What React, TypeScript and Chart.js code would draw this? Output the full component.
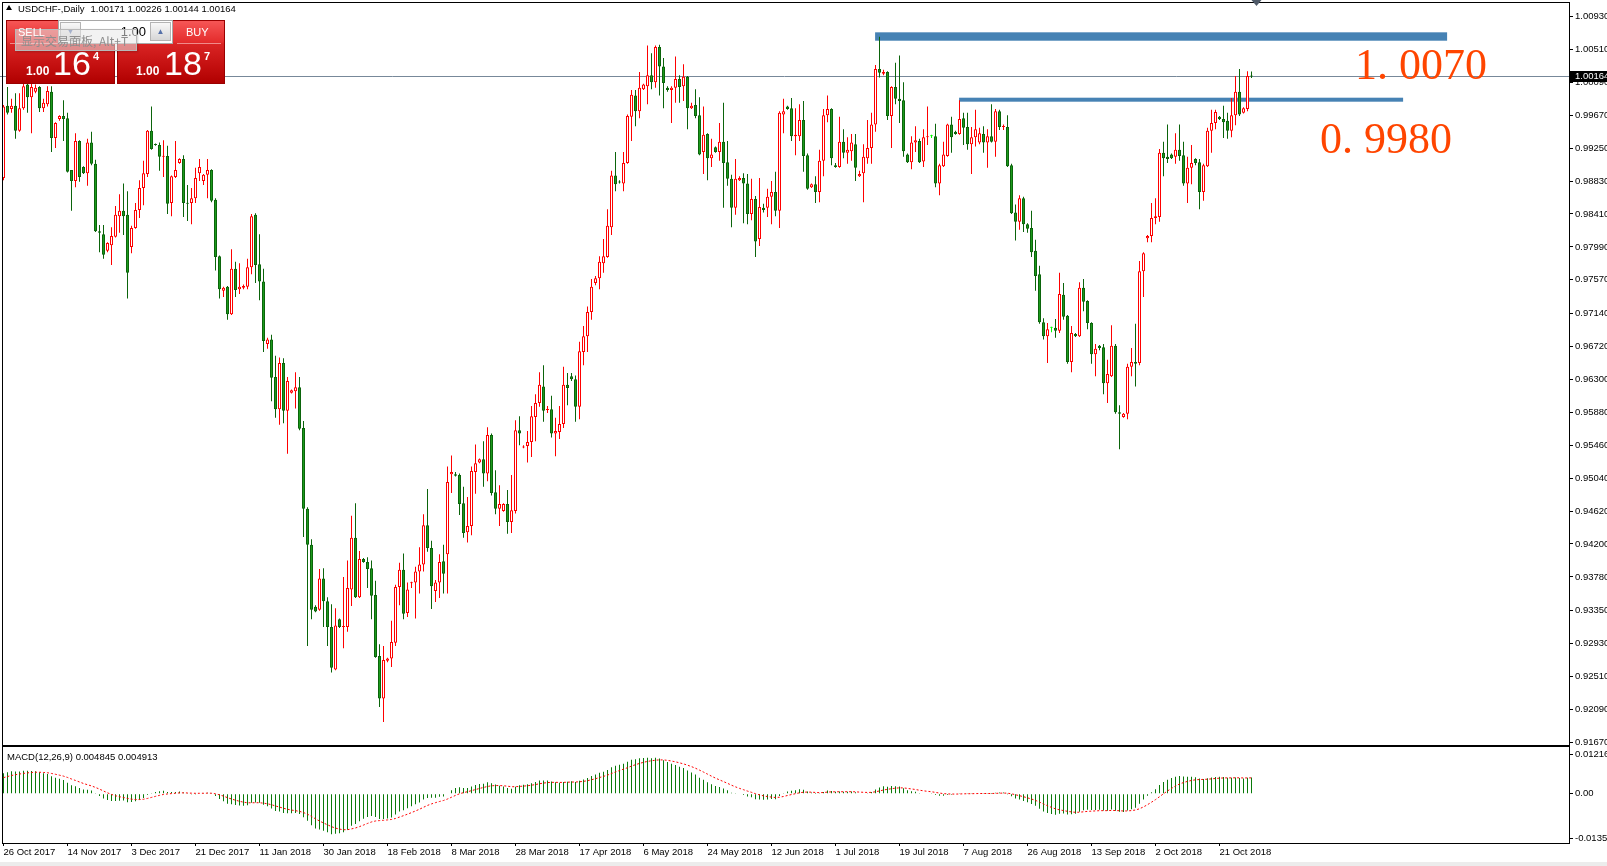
import React, { useEffect, useRef } from "react";
import { Chart, registerables } from "chart.js";

Chart.register(...registerables);

// ---------------- DATA ----------------
const symbolTitle = "USDCHF-,Daily";
const lastQuote = [1.00171, 1.00226, 1.00144, 1.00164]; // O H L C of current bar

const opens = [
  0.9887,0.9979,0.9975,0.9979,0.9947,0.9976,1.0006,0.9990,0.9997,1.0003,
  0.9976,0.9981,0.9997,0.9938,0.9962,0.9966,0.9963,0.9897,0.9883,0.9934,
  0.9901,0.9893,0.9932,0.9905,0.9819,0.9815,0.9794,0.9801,0.9812,0.9838,
  0.9845,0.9840,0.9799,0.9823,0.9846,0.9874,0.9892,0.9947,0.9930,0.9929,
  0.9914,0.9915,0.9855,0.9888,0.9906,0.9911,0.9855,0.9855,0.9861,0.9893,
  0.9883,0.9891,0.9897,0.9859,0.9787,0.9743,0.9748,0.9713,0.9771,0.9745,
  0.9747,0.9748,0.9773,0.9840,0.9777,0.9755,0.9675,0.9681,0.9633,0.9592,
  0.9651,0.9590,0.9613,0.9615,0.9620,0.9568,0.9465,0.9419,0.9340,0.9336,
  0.9376,0.9347,0.9314,0.9260,0.9324,0.9314,0.9314,0.9362,0.9428,0.9352,
  0.9401,0.9397,0.9389,0.9355,0.9277,0.9223,0.9271,0.9274,0.9294,0.9365,
  0.9387,0.9332,0.9370,0.9371,0.9385,0.9394,0.9444,0.9415,0.9360,0.9371,
  0.9398,0.9407,0.9509,0.9509,0.9508,0.9472,0.9435,0.9443,0.9512,0.9524,
  0.9528,0.9510,0.9559,0.9486,0.9465,0.9462,0.9471,0.9448,0.9462,0.9565,
  0.9543,0.9545,0.9550,0.9582,0.9600,0.9621,0.9591,0.9592,0.9561,0.9563,
  0.9573,0.9623,0.9634,0.9630,0.9595,0.9665,0.9685,0.9716,0.9753,0.9759,
  0.9778,0.9786,0.9824,0.9890,0.9882,0.9880,0.9906,0.9965,0.9992,0.9972,
  1.0000,1.0004,1.0018,1.0009,1.0054,1.0029,1.0002,0.9999,1.0002,1.0013,
  1.0004,1.0016,0.9976,0.9980,0.9967,0.9920,0.9943,0.9912,0.9926,0.9920,
  0.9933,0.9907,0.9886,0.9849,0.9884,0.9887,0.9880,0.9841,0.9860,0.9809,
  0.9849,0.9849,0.9863,0.9869,0.9845,0.9968,0.9978,0.9976,0.9940,0.9940,
  0.9961,0.9916,0.9875,0.9879,0.9869,0.9909,0.9967,0.9975,0.9903,0.9901,
  0.9933,0.9919,0.9921,0.9930,0.9889,0.9893,0.9912,0.9925,0.9955,1.0026,
  1.0020,1.0022,0.9966,1.0003,0.9988,0.9986,0.9917,0.9907,0.9932,0.9934,
  0.9908,0.9939,0.9940,0.9940,0.9880,0.9902,0.9915,0.9955,0.9946,0.9943,
  0.9963,0.9952,0.9930,0.9939,0.9932,0.9943,0.9932,0.9940,0.9933,0.9972,
  0.9952,0.9952,0.9903,0.9843,0.9831,0.9861,0.9828,0.9823,0.9794,0.9764,
  0.9703,0.9685,0.9696,0.9696,0.9692,0.9738,0.9711,0.9652,0.9688,0.9685,
  0.9747,0.9730,0.9702,0.9662,0.9673,0.9671,0.9625,0.9634,0.9673,0.9588,
  0.9582,0.9586,0.9646,0.9652,0.9651,0.9768,0.9810,0.9813,0.9836,0.9837,
  0.9919,0.9914,0.9917,0.9914,0.9923,0.9916,0.9880,0.9900,0.9911,0.9907,
  0.9869,0.9902,0.9947,0.9957,0.9965,0.9962,0.9960,0.9947,0.9967,0.9997,
  0.9970,0.9975,1.00171,
];

const highs = [
  0.9980,1.0003,0.9988,0.9995,0.9995,1.0012,1.0012,1.0009,1.0006,1.0004,
  0.9988,1.0004,1.0004,0.9958,0.9967,0.9986,0.9970,0.9897,0.9944,0.9935,
  0.9902,0.9937,0.9946,0.9910,0.9827,0.9827,0.9805,0.9824,0.9851,0.9866,
  0.9880,0.9870,0.9826,0.9855,0.9884,0.9909,0.9948,0.9978,0.9931,0.9932,
  0.9935,0.9928,0.9890,0.9934,0.9912,0.9916,0.9878,0.9874,0.9900,0.9911,
  0.9892,0.9911,0.9898,0.9861,0.9788,0.9748,0.9749,0.9796,0.9780,0.9778,
  0.9751,0.9784,0.9841,0.9842,0.9815,0.9771,0.9683,0.9687,0.9660,0.9658,
  0.9657,0.9633,0.9617,0.9639,0.9633,0.9577,0.9467,0.9426,0.9342,0.9388,
  0.9389,0.9352,0.9343,0.9338,0.9325,0.9378,0.9399,0.9456,0.9472,0.9411,
  0.9402,0.9403,0.9399,0.9373,0.9292,0.9290,0.9275,0.9322,0.9368,0.9396,
  0.9408,0.9371,0.9372,0.9391,0.9416,0.9458,0.9490,0.9424,0.9374,0.9407,
  0.9419,0.9519,0.9533,0.9512,0.9510,0.9493,0.9480,0.9519,0.9547,0.9529,
  0.9551,0.9569,0.9561,0.9514,0.9495,0.9472,0.9489,0.9508,0.9578,0.9583,
  0.9546,0.9564,0.9596,0.9611,0.9639,0.9648,0.9596,0.9609,0.9581,0.9596,
  0.9646,0.9638,0.9638,0.9635,0.9678,0.9698,0.9723,0.9758,0.9762,0.9787,
  0.9809,0.9847,0.9896,0.9920,0.9884,0.9920,0.9968,0.9999,0.9999,1.0022,
  1.0007,1.0056,1.0046,1.0056,1.0057,1.0040,1.0004,1.0004,1.0042,1.0018,
  1.0032,1.0017,0.9983,1.0000,0.9990,0.9978,0.9944,0.9937,0.9927,0.9957,
  0.9983,0.9934,0.9891,0.9911,0.9889,0.9893,0.9892,0.9886,0.9864,0.9887,
  0.9854,0.9873,0.9883,0.9895,0.9972,0.9988,0.9979,0.9989,0.9976,0.9981,
  0.9985,0.9918,0.9880,0.9889,0.9923,0.9975,0.9992,0.9976,0.9906,0.9965,
  0.9949,0.9939,0.9943,0.9943,0.9896,0.9930,0.9961,0.9970,1.0031,1.0067,
  1.0025,1.0023,1.0004,1.0034,1.0043,1.0009,0.9918,0.9940,0.9953,0.9937,
  0.9949,0.9978,0.9942,0.9956,0.9905,0.9933,0.9956,0.9965,0.9947,0.9986,
  0.9970,0.9970,0.9952,0.9974,0.9951,0.9953,0.9949,0.9981,0.9975,0.9974,
  0.9955,0.9967,0.9905,0.9853,0.9865,0.9863,0.9829,0.9845,0.9808,0.9775,
  0.9708,0.9702,0.9697,0.9707,0.9766,0.9753,0.9712,0.9698,0.9689,0.9754,
  0.9758,0.9731,0.9703,0.9675,0.9674,0.9675,0.9655,0.9699,0.9675,0.9597,
  0.9587,0.9650,0.9670,0.9701,0.9781,0.9792,0.9814,0.9855,0.9861,0.9924,
  0.9933,0.9955,0.9918,0.9944,0.9955,0.9933,0.9914,0.9929,0.9912,0.9911,
  0.9905,0.9951,0.9974,0.9974,0.9966,0.9979,0.9970,0.9989,1.0017,1.0026,
  0.9977,1.0023,1.00226,
];

const lows = [
  0.9884,0.9968,0.9970,0.9937,0.9946,0.9974,0.9970,0.9944,0.9995,0.9971,
  0.9971,0.9978,0.9920,0.9925,0.9960,0.9934,0.9894,0.9845,0.9875,0.9882,
  0.9892,0.9877,0.9903,0.9818,0.9792,0.9784,0.9792,0.9776,0.9811,0.9817,
  0.9814,0.9733,0.9791,0.9822,0.9836,0.9852,0.9888,0.9923,0.9928,0.9896,
  0.9888,0.9841,0.9838,0.9887,0.9905,0.9837,0.9832,0.9828,0.9855,0.9883,
  0.9878,0.9861,0.9856,0.9769,0.9733,0.9735,0.9706,0.9712,0.9735,0.9739,
  0.9745,0.9745,0.9764,0.9753,0.9731,0.9665,0.9669,0.9602,0.9581,0.9572,
  0.9574,0.9535,0.9612,0.9593,0.9565,0.9429,0.9290,0.9324,0.9333,0.9335,
  0.9314,0.9290,0.9256,0.9259,0.9313,0.9287,0.9308,0.9341,0.9351,0.9351,
  0.9396,0.9364,0.9324,0.9275,0.9212,0.9193,0.9269,0.9263,0.9290,0.9342,
  0.9324,0.9327,0.9364,0.9325,0.9357,0.9385,0.9410,0.9337,0.9346,0.9351,
  0.9357,0.9357,0.9485,0.9506,0.9457,0.9428,0.9422,0.9431,0.9484,0.9523,
  0.9493,0.9500,0.9482,0.9458,0.9443,0.9461,0.9433,0.9434,0.9459,0.9546,
  0.9542,0.9524,0.9531,0.9551,0.9595,0.9576,0.9587,0.9556,0.9532,0.9554,
  0.9568,0.9597,0.9628,0.9576,0.9579,0.9648,0.9665,0.9706,0.9750,0.9745,
  0.9766,0.9785,0.9814,0.9870,0.9880,0.9870,0.9905,0.9934,0.9953,0.9963,
  0.9999,0.9981,1.0000,1.0002,0.9992,0.9976,0.9997,0.9957,0.9983,0.9983,
  0.9985,0.9949,0.9975,0.9963,0.9916,0.9892,0.9884,0.9901,0.9919,0.9909,
  0.9849,0.9877,0.9824,0.9840,0.9883,0.9829,0.9828,0.9833,0.9786,0.9800,
  0.9843,0.9837,0.9828,0.9838,0.9823,0.9944,0.9974,0.9934,0.9916,0.9934,
  0.9895,0.9872,0.9874,0.9855,0.9856,0.9889,0.9958,0.9903,0.9900,0.9900,
  0.9912,0.9905,0.9909,0.9883,0.9888,0.9856,0.9905,0.9905,0.9946,1.0015,
  1.0018,0.9961,0.9925,0.9981,0.9957,0.9914,0.9906,0.9898,0.9920,0.9906,
  0.9901,0.9929,0.9938,0.9875,0.9865,0.9901,0.9914,0.9919,0.9942,0.9942,
  0.9929,0.9923,0.9892,0.9927,0.9930,0.9919,0.9900,0.9932,0.9914,0.9948,
  0.9948,0.9901,0.9841,0.9807,0.9821,0.9818,0.9817,0.9786,0.9743,0.9701,
  0.9681,0.9651,0.9690,0.9683,0.9689,0.9706,0.9650,0.9639,0.9684,0.9684,
  0.9717,0.9694,0.9650,0.9634,0.9667,0.9611,0.9600,0.9633,0.9586,0.9541,
  0.9581,0.9579,0.9634,0.9621,0.9648,0.9735,0.9805,0.9805,0.9828,0.9831,
  0.9889,0.9906,0.9911,0.9905,0.9909,0.9877,0.9855,0.9879,0.9903,0.9847,
  0.9858,0.9901,0.9919,0.9949,0.9961,0.9938,0.9937,0.9939,0.9954,0.9966,
  0.9969,0.9972,1.00144,
];

const closes = [
  0.9978,0.9970,0.9979,0.9947,0.9976,1.0004,0.9990,1.0003,1.0002,0.9976,
  0.9983,0.9998,0.9938,0.9957,0.9966,0.9962,0.9895,0.9883,0.9934,0.9888,
  0.9893,0.9932,0.9905,0.9819,0.9817,0.9789,0.9804,0.9813,0.9840,0.9845,
  0.9838,0.9766,0.9823,0.9846,0.9874,0.9893,0.9947,0.9924,0.9929,0.9914,
  0.9915,0.9854,0.9889,0.9897,0.9911,0.9855,0.9854,0.9861,0.9887,0.9901,
  0.9891,0.9897,0.9858,0.9786,0.9745,0.9747,0.9713,0.9771,0.9744,0.9748,
  0.9749,0.9773,0.9838,0.9776,0.9755,0.9679,0.9681,0.9632,0.9592,0.9651,
  0.9590,0.9628,0.9616,0.9620,0.9567,0.9465,0.9419,0.9336,0.9334,0.9376,
  0.9347,0.9314,0.9262,0.9316,0.9314,0.9315,0.9364,0.9428,0.9352,0.9401,
  0.9397,0.9388,0.9354,0.9276,0.9223,0.9272,0.9274,0.9295,0.9365,0.9387,
  0.9331,0.9362,0.9371,0.9385,0.9394,0.9444,0.9415,0.9366,0.9371,0.9397,
  0.9382,0.9499,0.9512,0.9507,0.9471,0.9434,0.9443,0.9513,0.9523,0.9528,
  0.9510,0.9559,0.9485,0.9465,0.9471,0.9471,0.9448,0.9463,0.9565,0.9561,
  0.9544,0.9550,0.9583,0.9600,0.9623,0.9590,0.9592,0.9561,0.9564,0.9573,
  0.9623,0.9619,0.9630,0.9595,0.9666,0.9685,0.9716,0.9748,0.9759,0.9780,
  0.9787,0.9826,0.9890,0.9879,0.9881,0.9906,0.9966,0.9993,0.9972,1.0002,
  1.0006,1.0018,1.0009,1.0054,1.0029,1.0008,0.9999,1.0002,1.0013,1.0003,
  1.0016,0.9976,0.9979,0.9966,0.9917,0.9942,0.9912,0.9917,0.9920,0.9933,
  0.9906,0.9886,0.9849,0.9886,0.9887,0.9880,0.9841,0.9860,0.9806,0.9850,
  0.9846,0.9863,0.9869,0.9845,0.9970,0.9972,0.9975,0.9940,0.9942,0.9961,
  0.9915,0.9873,0.9879,0.9869,0.9909,0.9967,0.9975,0.9912,0.9901,0.9933,
  0.9919,0.9923,0.9932,0.9900,0.9892,0.9914,0.9925,0.9955,1.0026,1.0021,
  1.0022,0.9966,1.0003,0.9988,0.9985,0.9921,0.9907,0.9932,0.9935,0.9907,
  0.9939,0.9940,0.9940,0.9880,0.9903,0.9917,0.9955,0.9939,0.9943,0.9962,
  0.9951,0.9930,0.9939,0.9949,0.9944,0.9932,0.9940,0.9933,0.9972,0.9952,
  0.9953,0.9902,0.9842,0.9831,0.9861,0.9828,0.9822,0.9792,0.9762,0.9703,
  0.9685,0.9694,0.9696,0.9692,0.9739,0.9710,0.9652,0.9689,0.9685,0.9747,
  0.9729,0.9702,0.9662,0.9669,0.9670,0.9625,0.9637,0.9673,0.9588,0.9586,
  0.9586,0.9646,0.9652,0.9650,0.9768,0.9791,0.9813,0.9836,0.9838,0.9919,
  0.9912,0.9911,0.9912,0.9923,0.9915,0.9880,0.9900,0.9906,0.9906,0.9869,
  0.9903,0.9947,0.9957,0.9971,0.9962,0.9958,0.9947,0.9967,0.9997,0.9968,
  0.9976,1.0017,1.00164,
];

const dateLabels = [
  "26 Oct 2017", "14 Nov 2017", "3 Dec 2017", "21 Dec 2017", "11 Jan 2018",
  "30 Jan 2018", "18 Feb 2018", "8 Mar 2018", "28 Mar 2018", "17 Apr 2018",
  "6 May 2018", "24 May 2018", "12 Jun 2018", "1 Jul 2018", "19 Jul 2018",
  "7 Aug 2018", "26 Aug 2018", "13 Sep 2018", "2 Oct 2018", "21 Oct 2018",
];
const barsPerDateLabel = 16;

const priceTicks = [
  1.0093, 1.0051, 1.0009, 0.9967, 0.9925, 0.9883, 0.9841, 0.9799, 0.9757, 0.9714,
  0.9672, 0.963, 0.9588, 0.9546, 0.9504, 0.9462, 0.942, 0.9378, 0.9335, 0.9293,
  0.9251, 0.9209, 0.9167,
];
const macdTicks = [0.01216, 0, -0.01358];
const macdLegend = "MACD(12,26,9) 0.004845 0.004913";
const macdPeriods = { fast: 12, slow: 26, signal: 9 };
// EMA state carried in from the bars before the first visible one
const macdSeed = { fast: 0.9846, slow: 0.979, signal: 0.0046 };

// hand-drawn zones and their captions (price levels, bar index span)
const zones = [
  { low: 1.0062, high: 1.00727, fromBar: 217.9, toBar: 360.9 },
  { low: 0.99842, high: 0.99893, fromBar: 238.9, toBar: 349.9 },
];
const zoneCaptions = [
  { text: "1. 0070", bar: 337.9, price: 1.00127 },
  { text: "0. 9980", bar: 329.1, price: 0.99191 },
];

// ---------------- derived ----------------
const macdMain: number[] = [];
const macdSignal: number[] = [];
{
  let f = macdSeed.fast;
  let s = macdSeed.slow;
  let g = macdSeed.signal;
  for (const c of closes) {
    f += (c - f) * 2 / (macdPeriods.fast + 1);
    s += (c - s) * 2 / (macdPeriods.slow + 1);
    const m = f - s;
    g += (m - g) * 2 / (macdPeriods.signal + 1);
    macdMain.push(m);
    macdSignal.push(g);
  }
}

const UP = "#FF0000";
const DOWN_EDGE = "#0B640B";
const DOWN_FILL = "#1C9A1C";
const DOJI = "#00FF00";
const FONT = '"Liberation Sans", Arial, sans-serif';

const X_MIN = -0.125;
const X_MAX = 391.375;

const candleKind = (i: number) =>
  closes[i] === opens[i] ? "doji" : closes[i] > opens[i] ? "up" : "down";

const mainPlugin = {
  id: "mt4Main",
  beforeDatasetsDraw(chart: any) {
    const { ctx, chartArea, scales } = chart;
    const x = scales.x;
    const y = scales.y;
    ctx.save();
    ctx.fillStyle = "#4682B4";
    for (const z of zones) {
      const x0 = x.getPixelForValue(z.fromBar);
      const x1 = x.getPixelForValue(z.toBar);
      const y0 = y.getPixelForValue(z.high);
      const y1 = y.getPixelForValue(z.low);
      ctx.fillRect(x0, y0, x1 - x0, y1 - y0);
    }
    const py = Math.round(y.getPixelForValue(lastQuote[3])) + 0.5;
    ctx.strokeStyle = "#778899";
    ctx.lineWidth = 1;
    ctx.beginPath();
    ctx.moveTo(0, py);
    ctx.lineTo(chartArea.right, py);
    ctx.stroke();
    ctx.restore();
  },
  afterDraw(chart: any) {
    const { ctx, chartArea, scales, width } = chart;
    const x = scales.x;
    const y = scales.y;
    ctx.save();
    // frame
    ctx.strokeStyle = "#000";
    ctx.lineWidth = 1;
    ctx.strokeRect(chartArea.left - 0.5, chartArea.top - 0.5, chartArea.right - chartArea.left + 1, chartArea.bottom - chartArea.top + 1);
    // zone captions
    ctx.fillStyle = "#FF4500";
    ctx.font = '44px "Liberation Serif", "DejaVu Serif", serif';
    ctx.textAlign = "left";
    ctx.textBaseline = "alphabetic";
    for (const c of zoneCaptions) {
      ctx.fillText(c.text, x.getPixelForValue(c.bar), y.getPixelForValue(c.price));
    }
    // current price tag
    const py = Math.round(y.getPixelForValue(lastQuote[3]));
    ctx.fillStyle = "#000";
    ctx.fillRect(chartArea.right + 1, py - 5, width - chartArea.right, 11);
    ctx.fillStyle = "#fff";
    ctx.font = "9.5px " + FONT;
    ctx.textBaseline = "middle";
    ctx.fillText(lastQuote[3].toFixed(5), chartArea.right + 6, py + 0.5);
    // chart shift marker
    const mx = Math.round(x.getPixelForValue(closes.length)) + 0.5;
    ctx.fillStyle = "#4F5A68";
    ctx.beginPath();
    ctx.moveTo(mx - 5, 0);
    ctx.lineTo(mx + 5, 0);
    ctx.lineTo(mx, 6);
    ctx.closePath();
    ctx.fill();
    ctx.restore();
  },
};

const macdPlugin = {
  id: "mt4Macd",
  afterDraw(chart: any) {
    const { ctx, chartArea } = chart;
    ctx.save();
    ctx.strokeStyle = "#000";
    ctx.lineWidth = 1;
    ctx.strokeRect(chartArea.left - 0.5, chartArea.top - 0.5, chartArea.right - chartArea.left + 1, chartArea.bottom - chartArea.top + 1);
    ctx.restore();
  },
};

const yAxisFit = (scale: any) => {
  scale.width = 38;
  scale.paddingTop = 0;
  scale.paddingBottom = 0;
};

export default function App() {
  const mainRef = useRef<HTMLCanvasElement>(null);
  const macdRef = useRef<HTMLCanvasElement>(null);

  useEffect(() => {
    const idx = closes.map((_, i) => i);
    const main = new Chart(mainRef.current as HTMLCanvasElement, {
      type: "bar",
      data: {
        datasets: [
          {
            label: "body",
            data: idx.map((i) => ({ x: i, y: [opens[i], closes[i]] })) as any,
            barThickness: 3,
            grouped: false,
            borderSkipped: false,
            borderWidth: 1,
            minBarLength: 1,
            inflateAmount: 0,
            backgroundColor: (c: any) => {
              const k = candleKind(c.dataIndex);
              return k === "doji" ? DOJI : k === "up" ? "#FFFFFF" : DOWN_FILL;
            },
            borderColor: (c: any) => {
              const k = candleKind(c.dataIndex);
              return k === "doji" ? DOJI : k === "up" ? UP : DOWN_EDGE;
            },
          } as any,
          {
            label: "wick",
            data: idx.map((i) => ({ x: i, y: [lows[i], highs[i]] })) as any,
            barThickness: 1,
            grouped: false,
            borderWidth: 0,
            inflateAmount: 0,
            backgroundColor: (c: any) => {
              const k = candleKind(c.dataIndex);
              return k === "doji" ? DOJI : k === "up" ? UP : DOWN_EDGE;
            },
          } as any,
        ],
      },
      options: {
        animation: false,
        responsive: false,
        devicePixelRatio: 1,
        events: [],
        layout: { autoPadding: false, padding: { left: 3, top: 3, right: 0, bottom: 1 } },
        plugins: { legend: { display: false }, tooltip: { enabled: false } },
        scales: {
          x: {
            type: "linear",
            min: X_MIN,
            max: X_MAX,
            offset: false,
            display: false,
            grid: { display: false, offset: false },
          },
          y: {
            type: "linear",
            position: "right",
            min: 0.91636,
            max: 1.01101,
            border: { display: false },
            grid: { drawOnChartArea: false, drawTicks: true, tickLength: 4, color: "#000" },
            afterBuildTicks: (scale: any) => {
              scale.ticks = priceTicks.map((v) => ({ value: v }));
            },
            afterFit: yAxisFit,
            ticks: {
              color: "#000",
              padding: 2,
              font: { family: FONT, size: 9.5 },
              callback: (v: any) => Number(v).toFixed(5),
            },
          },
        },
      } as any,
      plugins: [mainPlugin],
    });

    const macd = new Chart(macdRef.current as HTMLCanvasElement, {
      type: "bar",
      data: {
        datasets: [
          {
            type: "line",
            label: "signal",
            data: idx.map((i) => ({ x: i, y: macdSignal[i] })) as any,
            borderColor: "#FF0000",
            borderWidth: 1,
            borderDash: [2, 2],
            pointRadius: 0,
            tension: 0,
          } as any,
          {
            type: "bar",
            label: "macd",
            data: idx.map((i) => ({ x: i, y: macdMain[i] })) as any,
            barThickness: 1,
            borderWidth: 0,
            inflateAmount: 0,
            backgroundColor: "#0A7A0A",
          } as any,
        ],
      },
      options: {
        animation: false,
        responsive: false,
        devicePixelRatio: 1,
        events: [],
        layout: { autoPadding: false, padding: { left: 3, top: 3, right: 0, bottom: 0 } },
        plugins: { legend: { display: false }, tooltip: { enabled: false } },
        scales: {
          x: {
            type: "linear",
            min: X_MIN,
            max: X_MAX,
            offset: false,
            border: { display: false },
            grid: { drawOnChartArea: false, drawTicks: true, tickLength: 3, color: "#000", offset: false },
            afterBuildTicks: (scale: any) => {
              scale.ticks = dateLabels.map((_, j) => ({ value: j * barsPerDateLabel }));
            },
            afterFit: (scale: any) => {
              scale.height = 23;
              scale.paddingLeft = 0;
              scale.paddingRight = 0;
            },
            ticks: {
              color: "#000",
              padding: 1,
              autoSkip: false,
              maxRotation: 0,
              minRotation: 0,
              align: "start",
              font: { family: FONT, size: 9.5 },
              callback: (v: any) => dateLabels[Math.round(Number(v) / barsPerDateLabel)] ?? "",
            },
          },
          y: {
            type: "linear",
            position: "right",
            min: -0.0151,
            max: 0.01431,
            border: { display: false },
            grid: { drawOnChartArea: false, drawTicks: true, tickLength: 4, color: "#000" },
            afterBuildTicks: (scale: any) => {
              scale.ticks = macdTicks.map((v) => ({ value: v }));
            },
            afterFit: yAxisFit,
            ticks: {
              color: "#000",
              padding: 2,
              font: { family: FONT, size: 9.5 },
              callback: (v: any) => (Number(v) === 0 ? "0.00" : Number(v).toFixed(5)),
            },
          },
        },
      } as any,
      plugins: [macdPlugin],
    });

    return () => {
      main.destroy();
      macd.destroy();
    };
  }, []);

  const redBlock = {
    position: "absolute" as const,
    top: 20,
    height: 64,
    boxSizing: "border-box" as const,
    border: "1px solid #9A0000",
    background: "linear-gradient(to bottom, #F65656 0%, #E42C2C 34%, #D92424 37%, #C20E0E 75%, #B00000 100%)",
  };
  const white = { position: "absolute" as const, color: "#fff", fontFamily: FONT, lineHeight: 1, whiteSpace: "nowrap" as const };
  const spin = {
    position: "absolute" as const,
    top: 22,
    width: 21,
    height: 19,
    boxSizing: "border-box" as const,
    border: "1px solid #B4B4B4",
    background: "linear-gradient(to bottom, #F8F8F8, #D6D6D6)",
    color: "#5570A8",
    fontSize: 8,
    lineHeight: "17px",
    textAlign: "center" as const,
    fontFamily: FONT,
  };

  return (
    <div style={{ position: "absolute", left: 0, top: 0, width: 1607, height: 866, overflow: "hidden", background: "#fff" }}>
      <canvas ref={mainRef} width={1607} height={746} style={{ position: "absolute", left: 0, top: 0 }} />
      <canvas ref={macdRef} width={1607} height={122} style={{ position: "absolute", left: 0, top: 744 }} />
      <div style={{ position: "absolute", left: 0, top: 862, width: 1607, height: 4, background: "#ECECEC" }} />

      {/* symbol info line */}
      <div style={{ position: "absolute", left: 6, top: 5, width: 0, height: 0, borderLeft: "3px solid transparent", borderRight: "3px solid transparent", borderBottom: "5px solid #000" }} />
      <div style={{ position: "absolute", left: 18, top: 3.8, fontFamily: FONT, fontSize: 9.5, lineHeight: 1, color: "#000", whiteSpace: "nowrap" }}>
        {symbolTitle}
        <span style={{ marginLeft: 6 }}>{lastQuote.map((v) => v.toFixed(5)).join(" ")}</span>
      </div>

      {/* MACD legend */}
      <div style={{ position: "absolute", left: 7, top: 751.5, fontFamily: FONT, fontSize: 9.5, lineHeight: 1, color: "#000", whiteSpace: "nowrap" }}>
        {macdLegend}
      </div>

      {/* one-click trading panel */}
      <div style={{ ...redBlock, left: 6, width: 109 }} />
      <div style={{ ...redBlock, left: 117, width: 108 }} />
      <div style={{ position: "absolute", left: 10, top: 43, width: 101, height: 1, background: "#F08A8A" }} />
      <div style={{ position: "absolute", left: 177, top: 43, width: 44, height: 1, background: "#F08A8A" }} />
      <div style={{ ...white, left: 186, top: 27, fontSize: 11 }}>BUY</div>
      <div style={{ position: "absolute", left: 58, top: 20, width: 115, height: 24, boxSizing: "border-box", border: "1px solid #A8A8A8", background: "#fff" }} />
      <div style={{ ...spin, left: 60 }}>▼</div>
      <div style={{ ...spin, left: 150 }}>▲</div>
      <div style={{ position: "absolute", left: 100, top: 24.5, width: 46, textAlign: "right", fontFamily: FONT, fontSize: 13, lineHeight: 1, color: "#000" }}>1.00</div>

      <div style={{ ...white, left: 26, top: 64.5, fontSize: 12, fontWeight: 700 }}>1.00</div>
      <div style={{ ...white, left: 53, top: 45.5, fontSize: 34 }}>16</div>
      <div style={{ ...white, left: 93, top: 50.5, fontSize: 11, fontWeight: 700 }}>4</div>
      <div style={{ ...white, left: 136, top: 64.5, fontSize: 12, fontWeight: 700 }}>1.00</div>
      <div style={{ ...white, left: 164, top: 45.5, fontSize: 34 }}>18</div>
      <div style={{ ...white, left: 204, top: 50.5, fontSize: 11, fontWeight: 700 }}>7</div>

      {/* hover tooltip */}
      <div
        style={{
          position: "absolute",
          left: 15,
          top: 29,
          width: 122,
          height: 22,
          boxSizing: "border-box",
          border: "1px solid #B8B8B8",
          background: "rgba(232,232,232,0.55)",
          boxShadow: "1px 1px 2px rgba(0,0,0,0.2)",
          color: "#8E8E8E",
          fontFamily: '"Noto Sans CJK SC", sans-serif',
          fontSize: 12,
          lineHeight: "20px",
          paddingLeft: 5,
          paddingTop: 1,
          whiteSpace: "nowrap",
          overflow: "hidden",
        }}
      >
        显示交易面板, Alt+T
      </div>
      <div style={{ ...white, left: 18, top: 27, fontSize: 11 }}>SELL</div>
    </div>
  );
}
